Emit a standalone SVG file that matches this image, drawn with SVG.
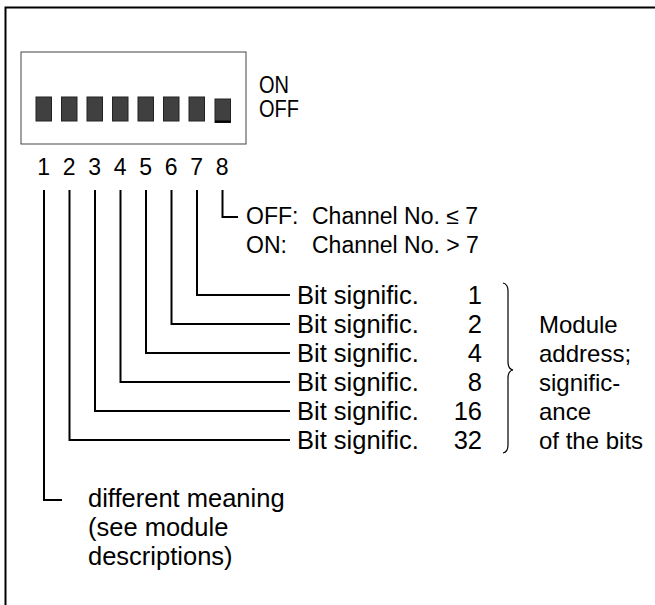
<svg xmlns="http://www.w3.org/2000/svg" width="655" height="605" viewBox="0 0 655 605">
<style>
text{font-family:"Liberation Sans",Arial,sans-serif;fill:#000}
.t{font-size:25.5px}
.m{font-size:24px}
.ch{font-size:23px}
.o{font-size:23.5px}
.d{font-size:23px;text-anchor:middle}
.e{text-anchor:end}
.sw{fill:#404040;stroke:#222;stroke-width:1}
.c{fill:none;stroke:#000;stroke-width:2}
</style>
<rect width="655" height="605" fill="#fff"/>
<path d="M5.5,605 V7.5 H655" fill="none" stroke="#000" stroke-width="2"/>
<g id="dip">
<rect x="21" y="52" width="225" height="92" fill="#fff" stroke="#444" stroke-width="1"/>
<rect class="sw" x="36" y="97" width="15.5" height="24"/>
<rect class="sw" x="61.5" y="97" width="15.5" height="24"/>
<rect class="sw" x="87" y="97" width="15.5" height="24"/>
<rect class="sw" x="112.5" y="97" width="15.5" height="24"/>
<rect class="sw" x="138" y="97" width="15.5" height="24"/>
<rect class="sw" x="163.5" y="97" width="15.5" height="24"/>
<rect class="sw" x="189" y="97" width="15.5" height="24"/>
<rect class="sw" x="215" y="99" width="15.5" height="23.5"/>
<line x1="215" y1="121.5" x2="230.5" y2="121.5" stroke="#000" stroke-width="2"/>
</g>
<g id="onoff">
<text class="o" x="259" y="93" textLength="30" lengthAdjust="spacingAndGlyphs">ON</text>
<text class="o" x="259" y="117" textLength="40" lengthAdjust="spacingAndGlyphs">OFF</text>
</g>
<g id="numbers">
<text class="d" x="43.75" y="175">1</text>
<text class="d" x="69.25" y="175">2</text>
<text class="d" x="94.75" y="175">3</text>
<text class="d" x="120.25" y="175">4</text>
<text class="d" x="145.75" y="175">5</text>
<text class="d" x="171.25" y="175">6</text>
<text class="d" x="196.75" y="175">7</text>
<text class="d" x="222.25" y="175">8</text>
</g>
<g id="connectors">
<path class="c" d="M222.5,190 V217 H238"/>
<path class="c" d="M197,190 V295 H290"/>
<path class="c" d="M171.5,190 V324 H290"/>
<path class="c" d="M146,190 V353 H290"/>
<path class="c" d="M120.5,190 V382 H290"/>
<path class="c" d="M95,190 V411 H290"/>
<path class="c" d="M69.5,190 V440 H290"/>
<path class="c" d="M44,190 V500 H62"/>
</g>
<g id="bit8">
<text class="ch" x="246" y="224">OFF:</text>
<text class="ch" x="312" y="224">Channel No. ≤ 7</text>
<text class="ch" x="246" y="253">ON:</text>
<text class="ch" x="312" y="253">Channel No. &gt; 7</text>
</g>
<g id="bits">
<text class="t" x="297" y="304">Bit signific.</text><text class="t e" x="482" y="304">1</text>
<text class="t" x="297" y="333">Bit signific.</text><text class="t e" x="482" y="333">2</text>
<text class="t" x="297" y="362">Bit signific.</text><text class="t e" x="482" y="362">4</text>
<text class="t" x="297" y="391">Bit signific.</text><text class="t e" x="482" y="391">8</text>
<text class="t" x="297" y="420">Bit signific.</text><text class="t e" x="482" y="420">16</text>
<text class="t" x="297" y="449">Bit signific.</text><text class="t e" x="482" y="449">32</text>
</g>
<g id="brace">
<path d="M503,283 Q508,284 508,291 V362 Q508,369 513,370 Q508,371 508,378 V445 Q508,452 503,453" fill="none" stroke="#000" stroke-width="1.2"/>
</g>
<g id="module">
<text class="m" x="539" y="333">Module</text>
<text class="m" x="539" y="362">address;</text>
<text class="m" x="539" y="391">signific-</text>
<text class="m" x="539" y="420">ance</text>
<text class="m" x="539" y="449">of the bits</text>
</g>
<g id="bit1">
<text class="t" x="88" y="507">different meaning</text>
<text class="t" x="88" y="536">(see module</text>
<text class="t" x="88" y="565">descriptions)</text>
</g>
</svg>
